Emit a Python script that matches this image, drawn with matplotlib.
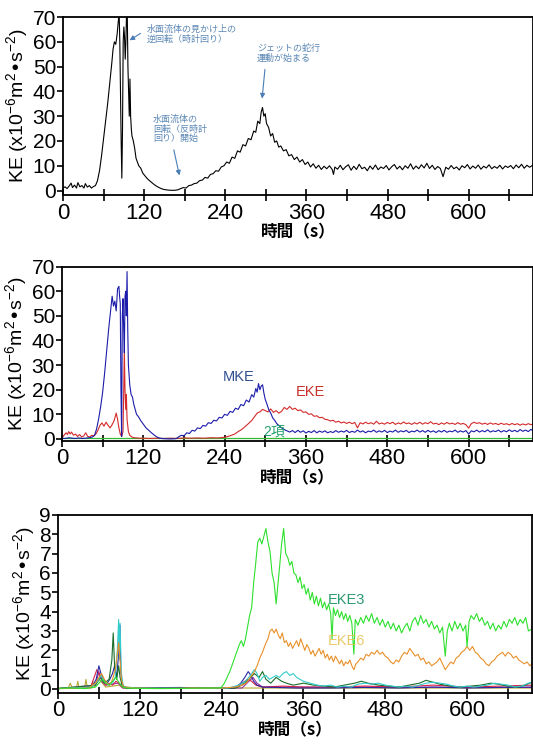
import numpy as np
import matplotlib
matplotlib.use("Agg")
import matplotlib.pyplot as plt

plt.rcParams['font.family'] = ['Liberation Sans', 'Noto Sans CJK JP']
plt.rcParams['mathtext.default'] = 'regular'

JP = ['Noto Sans CJK JP', 'Liberation Sans']

# ---------------- panel 1 : total KE ----------------
ke_t = [0, 3, 6, 9, 12, 14, 17, 20, 22, 25, 28, 31, 33, 36, 39, 42, 45, 48, 51, 54,
        57, 60, 63, 66, 69, 72, 74, 76, 78, 80, 82, 83, 84, 85, 86, 87, 88, 89, 90, 91,
        92, 93, 94, 95, 96, 97, 98, 99, 100, 101, 102, 104, 106, 108, 110, 112, 115, 118, 121, 124,
        127, 130, 134, 138, 142, 146, 150, 155, 160, 165, 170, 174, 178, 182, 186, 190, 194, 198, 202, 206,
        210, 214, 218, 222, 226, 230, 234, 238, 242, 246, 250, 254, 258, 262, 266, 270, 274, 278, 282, 285,
        288, 291, 293, 295, 297, 299, 301, 304, 307, 310, 313, 316, 319, 322, 326, 330, 334, 338, 342, 346,
        350, 354, 358, 362, 366, 370, 374, 378, 382, 386, 390, 394, 398, 400, 402, 406, 410, 414, 418, 422,
        426, 430, 434, 438, 442, 446, 450, 454, 458, 462, 466, 470, 474, 478, 482, 486, 490, 494, 498, 502,
        506, 510, 514, 518, 522, 526, 530, 534, 538, 542, 546, 550, 554, 558, 562, 566, 570, 574, 578, 582,
        586, 590, 594, 598, 602, 606, 610, 614, 618, 622, 626, 630, 634, 638, 642, 646, 650, 654, 658, 662,
        666, 670, 674, 678, 682, 686, 690, 695]
ke_v = [1.0, 1.5, 0.8, 1.8, 3.0, 1.2, 2.2, 1.0, 3.2, 1.5, 2.0, 1.0, 2.8, 1.4, 2.0, 1.0, 1.6, 2.0, 4.0, 8.0,
        14, 21, 28, 35, 43, 51, 57, 60, 59, 63, 69, 72, 60, 40, 20, 5, 25, 60, 66, 62,
        53, 60, 72, 72, 50, 40, 30, 45, 30, 25, 22, 20, 17, 13, 11.5, 10, 9, 7, 6, 5,
        4.2, 3.5, 2.6, 1.8, 1.2, 0.7, 0.4, 0.2, 0.1, 0.1, 0.3, 0.8, 1.2, 1.0, 2.0, 2.2, 2.8, 3.0, 4.0, 4.2,
        5.3, 5.0, 6.5, 6.8, 8.0, 7.8, 9.5, 10.0, 11.5, 11.0, 13.5, 13.0, 16.0, 15.5, 18.5, 18.0, 21.0, 20.5, 24.0, 23.5,
        28.0, 27.0, 31.5, 33.5, 30.0, 31.0, 27.0, 25.5, 22.0, 23.0, 19.5, 20.0, 17.5, 18.0, 16.0, 16.5, 14.0, 14.5, 12.5, 13.5,
        11.5, 12.5, 10.5, 11.5, 9.5, 10.8, 9.0, 10.2, 8.5, 9.8, 8.8, 10.0, 8.5, 6.5, 9.5, 8.6, 10.2, 8.4, 9.6, 10.4,
        8.2, 9.8, 8.5, 10.6, 8.8, 9.4, 8.0, 9.9, 8.6, 10.3, 8.4, 9.5, 8.9, 10.1, 8.3, 9.6, 10.5, 8.7, 9.8, 8.4,
        10.0, 9.0, 10.8, 8.6, 9.9, 8.8, 10.4, 9.1, 11.0, 8.9, 10.2, 8.5, 9.7, 8.9, 5.6, 9.4, 8.6, 10.1, 8.8, 9.5,
        8.3, 10.0, 9.2, 10.5, 8.7, 9.9, 9.0, 10.3, 8.6, 9.8, 9.1, 10.4, 8.8, 9.7, 9.0, 10.2, 8.7, 9.9, 9.3, 10.1,
        8.8, 10.3, 9.2, 10.6, 9.0, 10.2, 9.4, 10.3]

# annotation texts (panel 1)
note_rev = '水面流体の見かけ上の\n逆回転（時計回り）'
note_ccw = '水面流体の\n回転（反時計\n回り）開始'
note_jet = 'ジェットの蛇行\n運動が始まる'

# ---------------- panel 2 : MKE / EKE / 2項 ----------------
mke_t = [0, 5, 10, 15, 20, 25, 30, 35, 40, 45, 48, 51, 54, 57, 60, 63, 66, 69, 72, 74,
         76, 78, 80, 82, 84, 85, 86, 87, 88, 89, 90, 91, 92, 93, 94, 95, 96, 97, 98, 100,
         102, 104, 106, 108, 110, 113, 116, 120, 124, 128, 132, 136, 140, 144, 150, 160, 168, 172, 176, 180,
         184, 188, 192, 196, 200, 204, 208, 212, 216, 220, 224, 228, 232, 236, 240, 244, 248, 252, 256, 260,
         264, 268, 272, 276, 280, 283, 286, 288, 290, 292, 294, 296, 298, 300, 302, 305, 308, 311, 314, 317,
         320, 324, 328, 332, 336, 340, 344, 348, 352, 356, 360, 364, 368, 372, 376, 380, 384, 388, 392, 396,
         400, 404, 408, 412, 416, 420, 424, 428, 432, 436, 440, 444, 448, 452, 456, 460, 464, 468, 472, 476,
         480, 484, 488, 492, 496, 500, 504, 508, 512, 516, 520, 524, 528, 532, 536, 540, 544, 548, 552, 556,
         560, 564, 568, 572, 576, 580, 584, 588, 592, 596, 600, 604, 608, 612, 616, 620, 624, 628, 632, 636,
         640, 644, 648, 652, 656, 660, 664, 668, 672, 676, 680, 684, 688, 692, 695]
mke_v = [0.3, 0.2, 0.5, 0.3, 0.2, 0.4, 0.2, 0.3, 0.5, 0.8, 1.5, 4, 8, 13, 19, 27, 36, 45, 53, 58,
         54, 56, 52, 61, 62, 58, 55, 20, 1, 50, 57, 45, 35, 58, 60, 50, 68, 45, 30, 22,
         18, 17, 14, 12, 10, 9, 7.5, 6, 4.5, 3.5, 2.5, 1.6, 0.8, 0.3, 0.1, 0.0, 0.1, 0.8, 1.5, 1.2,
         2.5, 2.2, 3.5, 3.2, 4.5, 4.2, 5.5, 5.2, 6.6, 6.3, 7.6, 7.3, 8.8, 8.5, 10.0, 9.6, 11.2, 10.8, 12.5, 12.0,
         14.0, 13.5, 15.8, 15.0, 18.0, 17.0, 20.5, 19.0, 22.5, 20.0, 21.5, 22.0, 18.5, 16.0, 14.5, 12.0, 10.5, 8.5, 7.5, 6.2,
         5.5, 4.5, 3.8, 3.3, 2.8, 3.4, 2.6, 3.5, 2.7, 3.3, 2.4, 3.1, 2.6, 3.4, 2.5, 3.2, 2.7, 3.3, 2.5, 3.0,
         2.6, 3.4, 2.7, 3.2, 2.8, 3.5, 2.6, 3.1, 2.7, 3.6, 2.8, 3.3, 2.5, 3.2, 2.9, 3.6, 2.7, 3.3, 2.8, 3.5,
         2.6, 3.2, 2.8, 3.6, 2.7, 3.3, 2.9, 3.5, 2.6, 3.2, 2.9, 3.6, 2.8, 3.4, 2.7, 3.5, 2.8, 3.3, 2.6, 3.4,
         2.8, 3.5, 2.7, 3.2, 2.9, 3.6, 2.7, 3.3, 2.8, 3.4, 2.0, 3.3, 2.9, 3.6, 2.8, 3.4, 2.9, 3.7, 2.8, 3.3,
         3.0, 3.6, 2.8, 3.4, 2.9, 3.7, 3.0, 3.5, 2.9, 3.8, 3.1, 3.6, 3.0, 3.9, 3.3]

eke_t = [0, 3, 6, 8, 10, 12, 14, 17, 20, 23, 26, 29, 32, 35, 38, 41, 44, 47, 50, 53,
         56, 59, 62, 65, 68, 71, 74, 77, 80, 82, 84, 86, 88, 90, 91, 92, 93, 94, 95, 96,
         98, 100, 103, 106, 110, 115, 120, 130, 140, 150, 160, 170, 180, 190, 200, 210, 220, 230, 240, 245,
         250, 255, 260, 265, 270, 275, 280, 284, 288, 292, 296, 300, 304, 308, 312, 316, 320, 324, 328, 332,
         336, 340, 344, 348, 352, 356, 360, 364, 368, 372, 376, 380, 384, 388, 392, 396, 400, 404, 408, 412,
         416, 420, 424, 428, 432, 436, 440, 444, 448, 452, 456, 460, 464, 468, 472, 476, 480, 484, 488, 492,
         496, 500, 504, 508, 512, 516, 520, 524, 528, 532, 536, 540, 544, 548, 552, 556, 560, 564, 568, 572,
         576, 580, 584, 588, 592, 596, 600, 604, 608, 612, 616, 620, 624, 628, 632, 636, 640, 644, 648, 652,
         656, 660, 664, 668, 672, 676, 680, 684, 688, 692, 695]
eke_v = [0.5, 1.5, 2.5, 1.8, 3.0, 2.0, 2.8, 1.5, 2.0, 1.0, 1.8, 0.8, 1.2, 2.5, 1.0, 0.8, 1.5, 1.2, 2.0, 3.5,
         5.5, 6.5, 5.2, 6.8, 5.5, 4.5, 5.8, 7.5, 10.5, 8.0, 4.5, 2.0, 1.0, 3.0, 18, 36, 20, 12, 18, 8,
         3, 1.5, 0.8, 0.5, 0.4, 0.3, 0.3, 0.2, 0.3, 0.2, 0.3, 0.2, 0.4, 0.3, 0.4, 0.3, 0.5, 0.4, 0.7, 1.0,
         1.5, 2.0, 3.0, 3.8, 5.0, 6.2, 7.5, 9.0, 10.5, 11.0, 12.0, 11.5, 11.0, 12.2, 10.8, 11.5, 10.5, 11.2, 12.8, 12.0,
         13.2, 12.0, 12.5, 11.5, 11.8, 10.8, 11.0, 10.0, 10.2, 9.2, 9.4, 8.6, 8.8, 8.0, 7.8, 7.3, 7.6, 6.8, 7.2, 6.5,
         6.9, 6.3, 6.8, 6.2, 6.7, 4.5, 6.6, 6.1, 6.8, 6.2, 6.6, 6.0, 7.2, 6.1, 6.5, 6.0, 6.7, 6.2, 6.8, 5.9,
         6.5, 6.1, 6.9, 6.2, 6.5, 5.9, 6.6, 6.1, 6.8, 6.0, 6.6, 6.2, 7.0, 6.1, 6.4, 5.8, 6.5, 6.0, 6.7, 6.1,
         6.4, 5.9, 6.6, 6.0, 6.3, 5.8, 4.4, 6.2, 6.8, 6.3, 6.6, 6.0, 6.4, 5.9, 6.5, 6.0, 6.3, 5.8, 6.4, 5.9,
         6.2, 5.7, 6.3, 5.8, 6.2, 5.6, 6.1, 5.7, 6.2, 5.8, 6.1]

term2_t = [0, 100, 200, 300, 400, 500, 600, 695]
term2_v = [0.2, 0.2, 0.2, 0.2, 0.2, 0.2, 0.2, 0.2]

# ---------------- panel 3 : EKE components ----------------
eke3_t = [0, 20, 40, 55, 60, 65, 70, 75, 80, 85, 90, 95, 100, 120, 150, 180, 210, 235, 240, 244,
          248, 252, 256, 260, 263, 266, 269, 272, 275, 278, 281, 284, 287, 290, 293, 296, 299, 302, 305, 308,
          311, 314, 317, 320, 322, 325, 328, 331, 334, 337, 340, 343, 346, 349, 352, 355, 358, 361, 364, 367,
          370, 373, 376, 379, 382, 385, 388, 391, 394, 397, 400, 402, 404, 407, 410, 413, 416, 419, 422, 425,
          428, 431, 434, 436, 440, 444, 448, 452, 456, 460, 464, 468, 472, 476, 480, 484, 488, 492, 496, 500,
          504, 508, 512, 516, 520, 524, 528, 532, 536, 540, 544, 548, 552, 556, 560, 564, 568, 571, 574, 578,
          582, 586, 590, 594, 598, 600, 603, 606, 610, 614, 618, 622, 626, 630, 634, 638, 642, 646, 650, 654,
          658, 662, 666, 670, 674, 678, 682, 686, 690, 695]
eke3_v = [0.03, 0.05, 0.02, 0.1, 0.3, 0.5, 0.3, 0.2, 0.4, 0.6, 0.3, 0.1, 0.05, 0.03, 0.02, 0.03, 0.05, 0.05, 0.1, 0.3,
          0.6, 0.9, 1.3, 1.7, 2.0, 2.3, 2.5, 2.2, 2.6, 3.2, 3.8, 4.2, 5.5, 6.5, 7.6, 7.8, 7.5, 7.9, 8.3, 7.6,
          7.1, 6.0, 5.5, 4.4, 5.2, 6.3, 7.5, 8.3, 7.0, 6.8, 6.4, 6.6, 6.0, 5.9, 5.5, 5.8, 5.2, 5.4, 4.9, 5.2,
          4.6, 5.0, 4.4, 4.8, 4.3, 4.7, 4.2, 4.5, 4.1, 4.4, 3.9, 2.6, 4.2, 3.8, 4.1, 3.7, 4.0, 3.6, 3.9, 3.5,
          3.8, 3.4, 1.8, 3.6, 3.3, 3.7, 3.4, 3.8, 3.5, 3.9, 3.4, 3.7, 3.3, 3.6, 3.2, 3.5, 3.1, 3.4, 3.0, 3.3,
          2.9, 3.2, 3.4, 3.0, 3.5, 3.7, 3.3, 3.8, 3.4, 3.6, 3.2, 3.5, 3.1, 3.3, 2.9, 3.2, 1.7, 3.0, 3.4, 3.0,
          3.5, 3.1, 3.4, 3.0, 3.3, 2.2, 3.5, 3.8, 3.6, 3.9, 3.5, 3.7, 3.3, 3.5, 3.1, 3.4, 3.0, 3.3, 3.1, 3.5,
          3.2, 3.6, 3.4, 3.7, 3.3, 3.6, 3.4, 3.7, 3.0, 3.1]

eke6_t = [0, 45, 55, 60, 64, 68, 72, 76, 80, 84, 87, 89, 91, 93, 96, 110, 150, 200, 240, 260,
          270, 276, 280, 284, 288, 292, 296, 300, 304, 308, 311, 314, 317, 320, 323, 326, 329, 332, 335, 338,
          341, 344, 347, 350, 353, 356, 359, 362, 365, 368, 371, 374, 377, 380, 383, 386, 389, 392, 395, 398,
          401, 404, 407, 410, 413, 416, 419, 422, 425, 428, 431, 434, 437, 440, 444, 448, 452, 456, 460, 464,
          468, 472, 476, 480, 484, 488, 492, 496, 500, 504, 508, 512, 516, 520, 524, 528, 532, 536, 540, 544,
          548, 552, 556, 560, 564, 568, 572, 576, 580, 584, 588, 592, 596, 600, 604, 608, 612, 616, 620, 624,
          628, 632, 636, 640, 644, 648, 652, 656, 660, 664, 668, 672, 676, 680, 684, 688, 692, 695]
eke6_v = [0.02, 0.05, 0.3, 0.6, 0.8, 0.5, 0.3, 0.2, 0.5, 1.0, 1.8, 2.4, 1.5, 0.5, 0.1, 0.05, 0.03, 0.04, 0.05, 0.1,
          0.2, 0.3, 0.5, 0.7, 0.9, 1.2, 1.6, 1.9, 2.3, 2.6, 3.0, 3.1, 2.9, 3.1, 2.8, 2.6, 2.9, 2.4, 2.5, 2.2,
          2.4, 2.1, 2.3, 2.5, 2.2, 2.6, 2.3, 2.0, 2.3, 2.1, 1.8, 2.0, 1.7, 1.9, 2.1, 1.8, 2.0, 1.6, 1.8, 1.5,
          1.7, 1.4, 1.7, 1.5, 1.3, 1.5, 1.2, 1.4, 1.3, 1.5, 1.2, 1.0, 1.3, 1.4, 1.6, 1.5, 1.8, 1.7, 1.9, 1.8,
          2.0, 1.8, 1.9, 1.7, 1.6, 1.4, 1.3, 1.5, 1.4, 1.7, 1.9, 1.8, 2.1, 1.9, 1.7, 1.8, 1.5, 1.6, 1.3, 1.4,
          1.2, 1.3, 1.4, 1.6, 1.3, 1.0, 1.2, 1.4, 1.3, 1.6, 1.7, 1.9, 2.0, 2.2, 2.0, 2.2, 1.9, 1.8, 1.6, 1.5,
          1.3, 1.2, 1.4, 1.5, 1.7, 1.8, 1.9, 1.7, 1.9, 1.8, 1.6, 1.7, 1.5, 1.4, 1.3, 1.4, 1.2, 1.3]

cyan_t = [0, 50, 58, 63, 68, 75, 80, 84, 87, 89, 90, 91, 93, 96, 120, 200, 250, 265, 275, 282,
          288, 292, 296, 300, 305, 310, 315, 320, 325, 330, 335, 340, 345, 350, 355, 360, 370, 380, 390, 400,
          410, 420, 430, 440, 450, 460, 470, 480, 490, 500, 510, 520, 530, 540, 550, 560, 570, 580, 590, 600,
          610, 620, 630, 640, 650, 660, 670, 680, 690, 695]
cyan_v = [0.02, 0.1, 0.4, 0.7, 0.4, 0.2, 0.3, 0.6, 2.0, 3.6, 1.5, 3.4, 0.8, 0.1, 0.05, 0.03, 0.05, 0.2, 0.4, 0.7,
          1.0, 0.8, 0.4, 0.6, 0.7, 0.5, 0.6, 0.7, 0.6, 0.8, 0.9, 0.7, 0.8, 0.6, 0.5, 0.4, 0.3, 0.2, 0.15, 0.2,
          0.1, 0.15, 0.1, 0.25, 0.3, 0.25, 0.3, 0.2, 0.15, 0.1, 0.15, 0.1, 0.2, 0.3, 0.35, 0.3, 0.25, 0.15, 0.1, 0.15,
          0.1, 0.15, 0.2, 0.3, 0.25, 0.2, 0.1, 0.15, 0.3, 0.35]

dkgreen_t = [0, 55, 62, 68, 75, 79, 81, 83, 86, 89, 91, 94, 100, 200, 260, 270, 280, 288, 295, 300,
             305, 312, 320, 328, 335, 345, 360, 375, 390, 405, 420, 435, 445, 455, 470, 485, 500, 515, 530, 540,
             550, 560, 575, 590, 605, 620, 635, 645, 660, 675, 685, 695]
dkgreen_v = [0.02, 0.2, 0.6, 0.3, 0.5, 1.5, 2.9, 1.2, 0.5, 1.2, 0.6, 0.2, 0.05, 0.03, 0.05, 0.2, 0.5, 0.8, 0.6, 0.9,
             0.5, 0.3, 0.6, 0.4, 0.3, 0.2, 0.3, 0.2, 0.15, 0.1, 0.2, 0.3, 0.4, 0.3, 0.2, 0.15, 0.1, 0.2, 0.3, 0.45,
             0.35, 0.25, 0.15, 0.1, 0.15, 0.2, 0.3, 0.25, 0.15, 0.1, 0.2, 0.35]

navy_t = [0, 50, 56, 60, 63, 67, 72, 76, 80, 83, 86, 89, 91, 92, 94, 100, 180, 190, 260, 268,
          274, 279, 283, 287, 292, 300, 320, 350, 400, 450, 500, 550, 600, 650, 695]
navy_v = [0.02, 0.1, 0.5, 1.2, 0.8, 0.5, 0.3, 0.5, 0.8, 1.2, 0.6, 1.8, 3.3, 1.0, 0.2, 0.05, 0.08, 0.03, 0.05, 0.3,
          0.6, 0.9, 0.7, 0.4, 0.2, 0.1, 0.08, 0.05, 0.05, 0.08, 0.05, 0.1, 0.05, 0.08, 0.1]

red_t = [0, 48, 53, 57, 61, 65, 70, 75, 80, 85, 90, 95, 120, 260, 270, 278, 284, 290, 300, 330,
         360, 400, 450, 500, 550, 600, 650, 695]
red_v = [0.02, 0.1, 0.6, 1.0, 0.7, 0.5, 0.2, 0.3, 0.2, 0.4, 0.3, 0.1, 0.05, 0.05, 0.3, 0.5, 0.4, 0.2, 0.1, 0.15,
         0.1, 0.1, 0.15, 0.1, 0.2, 0.1, 0.15, 0.2]

purple_t = [0, 55, 60, 64, 70, 88, 95, 270, 280, 286, 292, 300, 695]
purple_v = [0.02, 0.2, 0.9, 0.4, 0.2, 0.3, 0.05, 0.05, 0.4, 0.6, 0.3, 0.1, 0.08]

olive_t = [0, 15, 18, 21, 27, 29, 31, 39, 41, 43, 49, 51, 53, 60, 65, 70, 90, 95, 695]
olive_v = [0.05, 0.05, 0.3, 0.05, 0.05, 0.4, 0.05, 0.05, 0.5, 0.05, 0.05, 0.4, 0.1, 0.5, 0.3, 0.1, 0.2, 0.05, 0.05]

YLABEL = r'KE (x10$^{-6}$m$^2$•s$^{-2}$)'
XMAX = 695


def style_axis(ax, ylim, ystep):
    ax.set_xlim(0, XMAX)
    ax.set_ylim(*ylim)
    xt = list(range(0, XMAX, 60))
    ax.set_xticks(xt)
    ax.set_xticklabels([str(v) if v % 120 == 0 else '' for v in xt])
    ax.set_yticks(np.arange(0, ylim[1] + 0.01, ystep))
    ax.tick_params(axis='x', direction='inout', length=9, width=1.2, labelsize=16, pad=1)
    ax.tick_params(axis='y', direction='out', length=4, width=1.2, labelsize=15, pad=1)
    for s in ax.spines.values():
        s.set_linewidth(1.3)
    ax.set_xlabel('時間（s）', family=JP, fontweight='bold', fontsize=12, labelpad=0)
    ax.set_ylabel(YLABEL, fontsize=14, labelpad=2)


fig = plt.figure(figsize=(5.33, 7.44), dpi=100)

# panel 1
ax1 = fig.add_axes([0.1182, 0.7379, 0.8818, 0.2392])
ax1.plot(ke_t, ke_v, color='black', lw=0.8)
style_axis(ax1, (-1.8, 70), 10)

note_c = '#5b87b5'
arrow_kw = dict(arrowstyle='-|>', color='#4a7db5', lw=0.8, mutation_scale=7)
ax1.text(124, 67, note_rev, family=JP, fontsize=6.5, color=note_c, va='top', ha='left', linespacing=1.1)
ax1.annotate('', xy=(95, 60), xytext=(118, 64), arrowprops=arrow_kw)
ax1.text(133, 30.5, note_ccw, family=JP, fontsize=6.5, color=note_c, va='top', ha='left', linespacing=1.1)
ax1.annotate('', xy=(173, 5), xytext=(163, 17.5), arrowprops=arrow_kw)
ax1.text(287, 59, note_jet, family=JP, fontsize=6.5, color=note_c, va='top', ha='left', linespacing=1.1)
ax1.annotate('', xy=(294, 36), xytext=(299, 50), arrowprops=arrow_kw)

# panel 2
ax2 = fig.add_axes([0.1163, 0.4077, 0.8837, 0.2339])
ax2.plot(term2_t, term2_v, color='#33bb33', lw=0.9)
ax2.plot(eke_t, eke_v, color='#d42a2a', lw=0.8)
ax2.plot(mke_t, mke_v, color='#1c1caa', lw=0.8)
style_axis(ax2, (-0.7, 70), 10)
ax2.text(261, 25.2, 'MKE', color='#2e4e8e', fontsize=10.5, ha='center', va='center')
ax2.text(366, 19.1, 'EKE', color='#c8302a', fontsize=10.5, ha='center', va='center')
ax2.text(313, 2.9, '2項', color='#22a06a', fontsize=10, ha='center', va='center',
         family=['Liberation Sans', 'Noto Sans CJK JP'])

# panel 3
ax3 = fig.add_axes([0.1088, 0.0690, 0.8890, 0.2388])
ax3.plot(olive_t, olive_v, color='#b8a830', lw=0.8)
ax3.plot(purple_t, purple_v, color='#9b30a0', lw=0.8)
ax3.plot(red_t, red_v, color='#d8204a', lw=0.8)
ax3.plot(navy_t, navy_v, color='#2828a0', lw=0.8)
ax3.plot(dkgreen_t, dkgreen_v, color='#1a6e2a', lw=0.8)
ax3.plot(cyan_t, cyan_v, color='#33cccc', lw=0.8)
ax3.plot(eke6_t, eke6_v, color='#e8902a', lw=0.8)
ax3.plot(eke3_t, eke3_v, color='#2ee02e', lw=0.8)
style_axis(ax3, (-0.19, 9), 1)
ax3.text(423, 4.6, 'EKE3', color='#2a9a70', fontsize=10.5, ha='center', va='center')
ax3.text(423, 2.5, 'EKE6', color='#e8c050', fontsize=10.5, ha='center', va='center', alpha=0.85)

fig.savefig('out.png', dpi=100)
